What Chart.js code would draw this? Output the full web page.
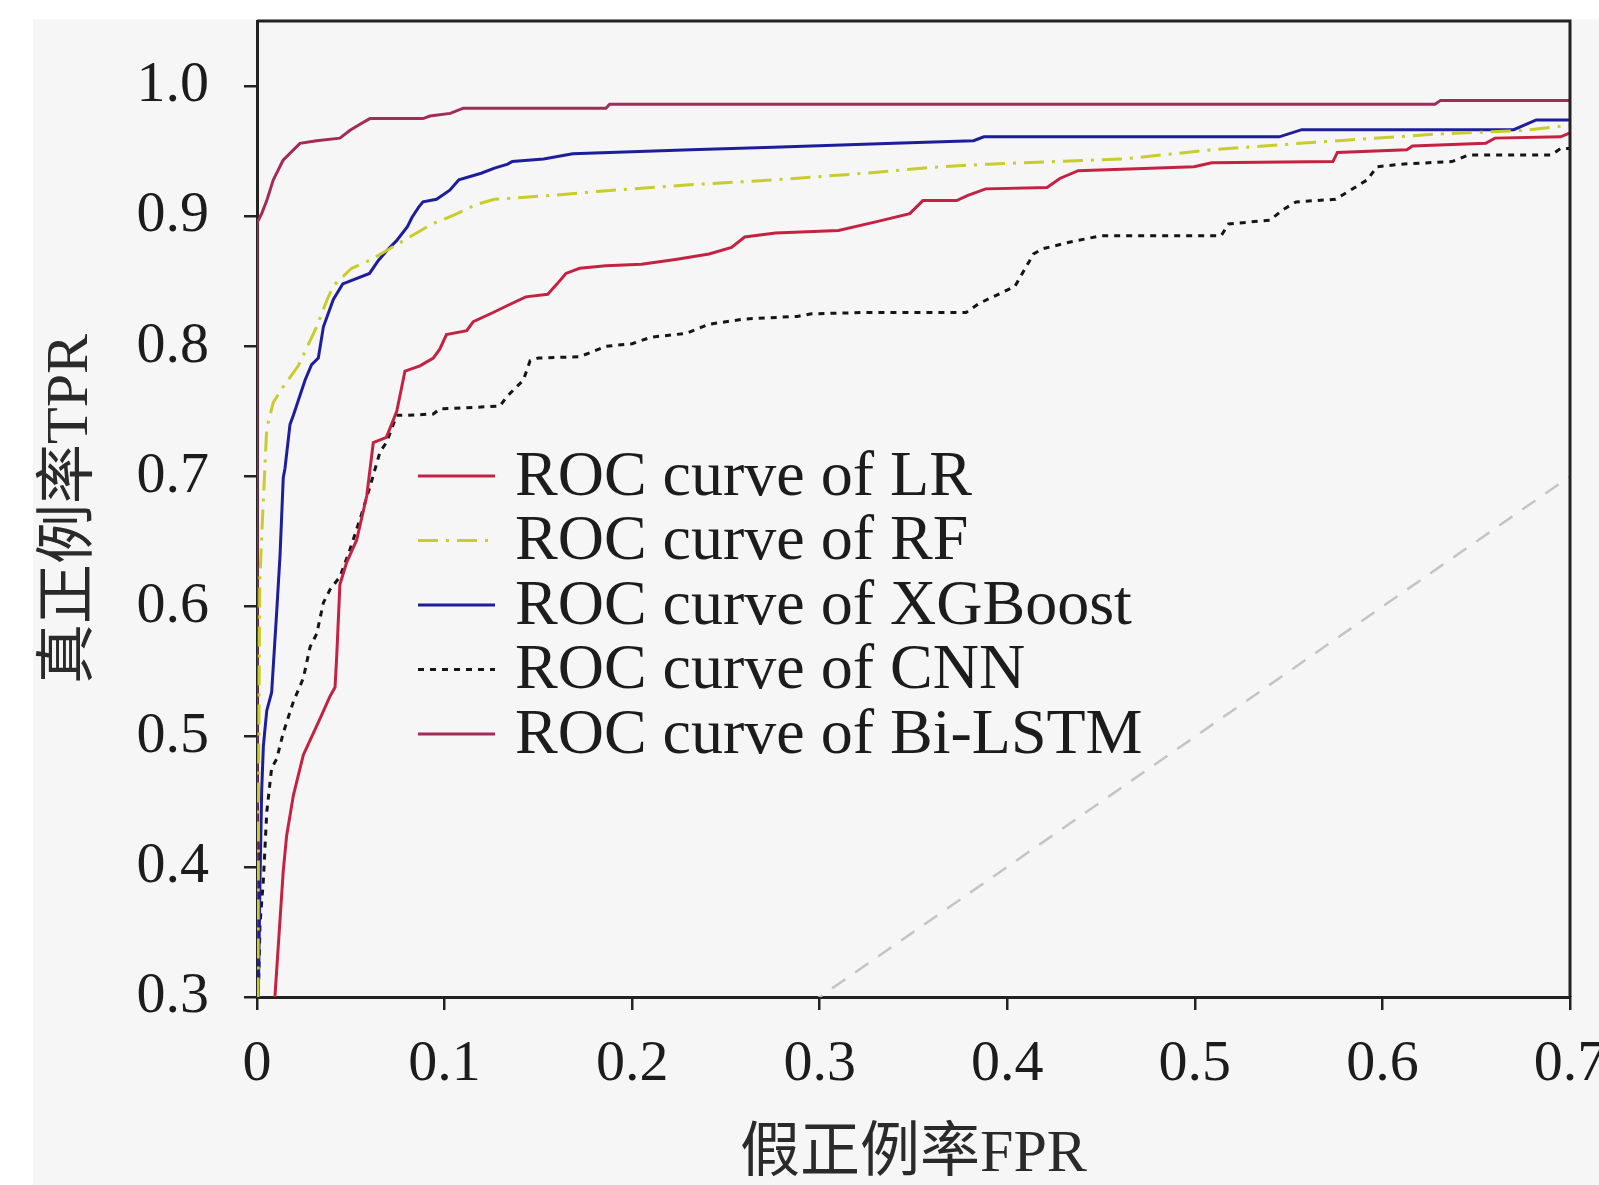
<!DOCTYPE html>
<html>
<head>
<meta charset="utf-8">
<title>ROC curves</title>
<script src="https://cdn.jsdelivr.net/npm/chart.js@4.4.0/dist/chart.umd.min.js"></script>
<style>
    html, body { margin: 0; padding: 0; background: #ffffff; overflow: hidden; }
    #roc { display: block; }
</style>
</head>
<body>
<canvas id="roc" width="1599" height="1185"></canvas>
<script>
    "use strict";

    // Axis ticks
    var xTickValues = [0, 0.1, 0.2, 0.3, 0.4, 0.5, 0.6, 0.7];
    var yTickValues = [0.3, 0.4, 0.5, 0.6, 0.7, 0.8, 0.9, 1.0];

    // Series names
    var seriesNames = ["ROC curve of LR", "ROC curve of RF", "ROC curve of XGBoost", "ROC curve of CNN", "ROC curve of Bi-LSTM"];

    // LR
    var lrFpr = [0, 0.0085, 0.0096, 0.014, 0.0158, 0.0194, 0.0247, 0.0336, 0.0389, 0.0416, 0.0425, 0.0442, 0.0478, 0.0531, 0.0585, 0.062, 0.069, 0.0745, 0.0789, 0.0869, 0.094, 0.0975, 0.101, 0.1118, 0.1153, 0.1259, 0.133, 0.1433, 0.155, 0.16, 0.1647, 0.172, 0.186, 0.205, 0.224, 0.241, 0.253, 0.26, 0.2765, 0.31, 0.331, 0.348, 0.355, 0.373, 0.379, 0.3885, 0.4212, 0.428, 0.4378, 0.4996, 0.509, 0.5736, 0.576, 0.613, 0.616, 0.655, 0.66, 0.695, 0.70];
    var lrTpr = [0, 0.28, 0.301, 0.397, 0.424, 0.455, 0.486, 0.514, 0.531, 0.538, 0.562, 0.617, 0.634, 0.651, 0.685, 0.726, 0.73, 0.75, 0.781, 0.785, 0.791, 0.798, 0.809, 0.812, 0.819, 0.826, 0.831, 0.838, 0.84, 0.848, 0.856, 0.86, 0.862, 0.863, 0.867, 0.871, 0.876, 0.884, 0.887, 0.889, 0.896, 0.902, 0.912, 0.912, 0.916, 0.921, 0.922, 0.929, 0.935, 0.938, 0.941, 0.942, 0.949, 0.951, 0.954, 0.956, 0.96, 0.961, 0.964];

    // RF
    var rfFpr = [0, 0.0008, 0.0015, 0.003, 0.0052, 0.0087, 0.014, 0.022, 0.0318, 0.0374, 0.0409, 0.0505, 0.06, 0.0719, 0.0814, 0.0933, 0.1052, 0.1171, 0.1266, 0.1575, 0.1813, 0.2289, 0.2765, 0.3241, 0.364, 0.39, 0.462, 0.509, 0.556, 0.628, 0.676, 0.70];
    var rfTpr = [0, 0.45, 0.62, 0.67, 0.737, 0.757, 0.769, 0.785, 0.815, 0.836, 0.847, 0.86, 0.866, 0.876, 0.884, 0.894, 0.901, 0.909, 0.913, 0.916, 0.919, 0.924, 0.928, 0.933, 0.938, 0.94, 0.944, 0.951, 0.956, 0.963, 0.966, 0.97];

    // XGBoost
    var xgbFpr = [0, 0.0007, 0.0016, 0.0025, 0.0034, 0.0052, 0.0078, 0.0105, 0.0123, 0.014, 0.0149, 0.0176, 0.0194, 0.0256, 0.0291, 0.0327, 0.0354, 0.0407, 0.0457, 0.06, 0.0647, 0.0695, 0.0743, 0.0802, 0.0826, 0.0862, 0.0885, 0.0957, 0.1028, 0.1076, 0.1195, 0.1266, 0.1337, 0.1361, 0.1528, 0.1683, 0.2313, 0.2753, 0.3396, 0.382, 0.3875, 0.545, 0.557, 0.67, 0.682, 0.70];
    var xgbTpr = [0, 0.301, 0.39, 0.459, 0.493, 0.52, 0.534, 0.596, 0.64, 0.699, 0.706, 0.74, 0.747, 0.774, 0.786, 0.791, 0.815, 0.836, 0.848, 0.856, 0.866, 0.874, 0.881, 0.892, 0.899, 0.907, 0.911, 0.913, 0.92, 0.928, 0.933, 0.937, 0.94, 0.942, 0.944, 0.948, 0.951, 0.953, 0.956, 0.958, 0.961, 0.961, 0.9665, 0.9665, 0.974, 0.974];

    // CNN
    var cnnFpr = [0, 0.0007, 0.0016, 0.0034, 0.0052, 0.0078, 0.0105, 0.014, 0.0194, 0.0247, 0.0283, 0.0318, 0.0354, 0.0389, 0.0442, 0.0496, 0.0551, 0.0602, 0.0656, 0.069, 0.0745, 0.0798, 0.094, 0.0975, 0.1295, 0.133, 0.1385, 0.142, 0.1456, 0.15, 0.172, 0.186, 0.20, 0.21, 0.229, 0.241, 0.26, 0.288, 0.2956, 0.324, 0.378, 0.385, 0.404, 0.414, 0.419, 0.433, 0.45, 0.514, 0.518, 0.54, 0.547, 0.554, 0.575, 0.592, 0.597, 0.61, 0.637, 0.646, 0.69, 0.695, 0.70];
    var cnnTpr = [0, 0.30, 0.356, 0.39, 0.442, 0.476, 0.483, 0.503, 0.527, 0.545, 0.569, 0.579, 0.603, 0.613, 0.623, 0.644, 0.668, 0.692, 0.719, 0.726, 0.747, 0.747, 0.748, 0.752, 0.754, 0.761, 0.769, 0.774, 0.789, 0.791, 0.792, 0.80, 0.802, 0.807, 0.81, 0.817, 0.821, 0.823, 0.825, 0.826, 0.826, 0.833, 0.846, 0.871, 0.875, 0.88, 0.885, 0.885, 0.894, 0.897, 0.905, 0.911, 0.913, 0.928, 0.938, 0.94, 0.942, 0.947, 0.947, 0.952, 0.952];

    // Bi-LSTM
    var lstmFpr = [0, 0, 0.0025, 0.0052, 0.0087, 0.0139, 0.0229, 0.0318, 0.0442, 0.0496, 0.0565, 0.0602, 0.0885, 0.0922, 0.103, 0.110, 0.186, 0.188, 0.628, 0.631, 0.70];
    var lstmTpr = [0, 0.895, 0.902, 0.912, 0.928, 0.943, 0.956, 0.958, 0.960, 0.966, 0.972, 0.975, 0.975, 0.977, 0.979, 0.983, 0.983, 0.986, 0.986, 0.989, 0.989];

    // Chance line
    var chanceFpr = [0, 1];
    var chanceTpr = [0, 1];

    function toPoints(xs, ys) {
        return xs.map(function (x, i) {
            return {x: x, y: ys[i]};
        });
    }

    var serifFont = "'Liberation Serif', 'DejaVu Serif', serif";
    var titleFont = "'Liberation Serif', 'Noto Sans CJK SC', serif";
    var inkColor = "#1c1c1c";


    // Page background (grey sheet with a white margin top-left)
    var sheetBackground = {
        id: 'sheetBackground',
        beforeDraw: function (chart) {
            var ctx = chart.ctx;
            ctx.save();
            ctx.fillStyle = "#ffffff";
            ctx.fillRect(0, 0, chart.width, chart.height);
            ctx.fillStyle = "#f6f6f6";
            ctx.fillRect(33, 19, chart.width - 33, chart.height - 19);
            ctx.restore();
        }
    };

    // Top and right frame lines
    var plotFrame = {
        id: 'plotFrame',
        afterDatasetsDraw: function (chart) {
            var a = chart.chartArea;
            var ctx = chart.ctx;
            ctx.save();
            ctx.strokeStyle = "#222222";
            ctx.lineWidth = 3;
            ctx.beginPath();
            ctx.moveTo(a.left, a.top);
            ctx.lineTo(a.right, a.top);
            ctx.lineTo(a.right, a.bottom);
            ctx.stroke();
            ctx.restore();
        }
    };

    // Legend inside the plot
    var rocLegend = {
        id: 'rocLegend',
        afterDatasetsDraw: function (chart) {
            var ctx = chart.ctx;
            var row = 0;
            ctx.save();
            ctx.font = "64px " + serifFont;
            ctx.textBaseline = "middle";
            chart.data.datasets.forEach(function (ds) {
                if (!ds.inLegend) {
                    return;
                }
                var y = 476 + row * 64.5;
                ctx.strokeStyle = ds.borderColor;
                ctx.lineWidth = ds.borderWidth;
                ctx.setLineDash(ds.borderDash || []);
                ctx.beginPath();
                ctx.moveTo(418, y);
                ctx.lineTo(495, y);
                ctx.stroke();
                ctx.setLineDash([]);
                ctx.fillStyle = inkColor;
                ctx.fillText(ds.label, 515, y + 2);
                row++;
            });
            ctx.restore();
        }
    };


    var ctx = document.getElementById("roc").getContext("2d");
    var rocChart = new Chart(ctx, {
        type: "line",
        data: {
            datasets: [{
                    label: "chance",
                    data: toPoints(chanceFpr, chanceTpr),
                    borderColor: "#c4c4c4",
                    borderWidth: 2.5,
                    borderDash: [16, 12]
                },
                {
                    label: seriesNames[0],
                    data: toPoints(lrFpr, lrTpr),
                    borderColor: "#c42242",
                    borderWidth: 3,
                    inLegend: true
                },
                {
                    label: seriesNames[1],
                    data: toPoints(rfFpr, rfTpr),
                    borderColor: "#c8cc2c",
                    borderWidth: 3,
                    borderDash: [20, 8, 3, 8],
                    inLegend: true
                },
                {
                    label: seriesNames[2],
                    data: toPoints(xgbFpr, xgbTpr),
                    borderColor: "#1e1e9a",
                    borderWidth: 3,
                    inLegend: true
                },
                {
                    label: seriesNames[3],
                    data: toPoints(cnnFpr, cnnTpr),
                    borderColor: "#151515",
                    borderWidth: 3,
                    borderDash: [6, 6],
                    inLegend: true
                },
                {
                    label: seriesNames[4],
                    data: toPoints(lstmFpr, lstmTpr),
                    borderColor: "#a42a58",
                    borderWidth: 3,
                    inLegend: true
                }
            ]
        },
        options: {
            responsive: false,
            animation: false,
            devicePixelRatio: 1,
            layout: {
                padding: {left: 0, top: 21, right: 29, bottom: 0}
            },
            elements: {
                point: {radius: 0},
                line: {tension: 0, fill: false}
            },
            plugins: {
                legend: {display: false},
                tooltip: {enabled: false}
            },
            scales: {
                x: {
                    type: "linear",
                    min: 0,
                    max: 0.7,
                    afterBuildTicks: function (scale) {
                        scale.ticks = xTickValues.map(function (v) { return {value: v}; });
                    },
                    afterFit: function (scale) {
                        scale.height = 188;
                        scale.paddingLeft = 0;
                        scale.paddingRight = 0;
                    },
                    ticks: {
                        autoSkip: false,
                        maxRotation: 0,
                        padding: 20,
                        color: inkColor,
                        font: {family: serifFont, size: 58},
                        callback: function (v) {
                            return v === 0 ? "0" : v.toFixed(1);
                        }
                    },
                    grid: {
                        drawOnChartArea: false,
                        drawTicks: true,
                        tickLength: 13,
                        color: "#222222",
                        lineWidth: 2.5
                    },
                    border: {color: "#222222", width: 3},
                    title: {
                        display: true,
                        text: "假正例率FPR",
                        color: "#2a2a2a",
                        padding: 0,
                        font: {family: titleFont, size: 60, lineHeight: 1}
                    }
                },
                y: {
                    type: "linear",
                    min: 0.3,
                    max: 1.05,
                    afterBuildTicks: function (scale) {
                        scale.ticks = yTickValues.map(function (v) { return {value: v}; });
                    },
                    afterFit: function (scale) {
                        scale.width = 257;
                        scale.paddingTop = 0;
                        scale.paddingBottom = 0;
                    },
                    ticks: {
                        padding: 35,
                        color: inkColor,
                        font: {family: serifFont, size: 58},
                        callback: function (v) {
                            return v.toFixed(1);
                        }
                    },
                    grid: {
                        drawOnChartArea: false,
                        drawTicks: true,
                        tickLength: 13,
                        color: "#222222",
                        lineWidth: 2.5
                    },
                    border: {color: "#222222", width: 3},
                    title: {
                        display: true,
                        text: "真正例率TPR",
                        color: "#2a2a2a",
                        padding: {top: 41, bottom: 0},
                        font: {family: titleFont, size: 60, lineHeight: 1}
                    }
                }
            }
        },
        plugins: [sheetBackground, plotFrame, rocLegend]
    });
</script>
</body>
</html>
